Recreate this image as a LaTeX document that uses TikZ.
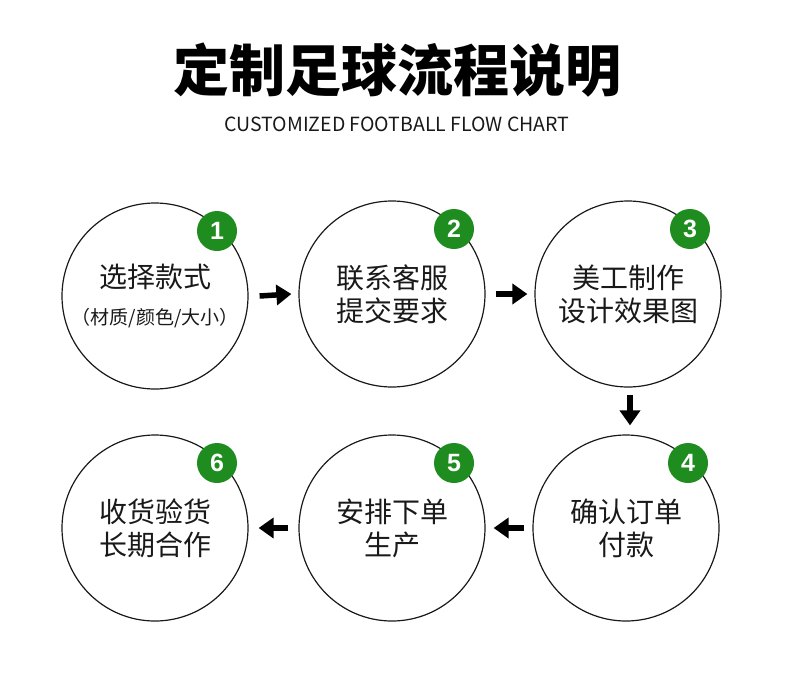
\documentclass[tikz,border=0pt]{standalone}
\usepackage{fontspec}
\usetikzlibrary{arrows.meta}
\newfontfamily\cjk{Noto Sans CJK SC}
\newfontfamily\numfont{Liberation Sans}
\definecolor{badgegreen}{RGB}{30,140,30}
\definecolor{ink}{RGB}{25,25,25}
\tikzset{
  stepcircle/.style={circle, draw=ink, line width=1.2pt, minimum size=186pt, inner sep=0pt,
    align=center, text=ink, font=\cjk\fontsize{28}{33}\selectfont},
  badge/.style={circle, fill=badgegreen, minimum size=40pt, inner sep=0pt, text=white,
    font=\numfont\bfseries\fontsize{25}{25}\selectfont},
  flowarrow/.style={line width=5.5pt, draw=black, -{Triangle[length=15pt,width=20pt]}},
}
\begin{document}
\begin{tikzpicture}[x=1pt,y=-1pt]
\useasboundingbox (0,0) rectangle (790,694);
\node[font=\cjk\bfseries\fontsize{56}{56}\selectfont, text=black] (title) at (397,70) {定制足球流程说明};
\node[font=\cjk\fontsize{19.5}{19.5}\selectfont, text=ink] (subtitle) at (397,124) {CUSTOMIZED FOOTBALL FLOW CHART};

\node[stepcircle] (c1) at (155,296) {选择款式\\[4pt]{\fontsize{19}{24}\selectfont （材质/颜色/大小）}};
\node[stepcircle] (c2) at (392,294) {联系客服\\提交要求};
\node[stepcircle] (c3) at (628,294) {美工制作\\设计效果图};
\node[stepcircle] (c4) at (626,528) {确认订单\\付款};
\node[stepcircle] (c5) at (392,528) {安排下单\\生产};
\node[stepcircle] (c6) at (155,528) {收货验货\\长期合作};

\foreach \i in {1,...,6} {
  \node[badge] (b\i) at ([shift={(62,-65)}]c\i.center) {\i};
}

\draw[flowarrow] ([xshift=11pt]c1.east) -- ([xshift=-7pt]c2.west);
\draw[flowarrow] ([xshift=10pt]c2.east) -- ([xshift=-7pt]c3.west);
\draw[flowarrow] ([shift={(2pt,-7pt)}]c3.south) -- ([shift={(4pt,9pt)}]c4.north);
\draw[flowarrow] ([xshift=-8pt]c4.west) -- ([xshift=8pt]c5.east);
\draw[flowarrow] ([xshift=-10pt]c5.west) -- ([xshift=10pt]c6.east);
\end{tikzpicture}
\end{document}
